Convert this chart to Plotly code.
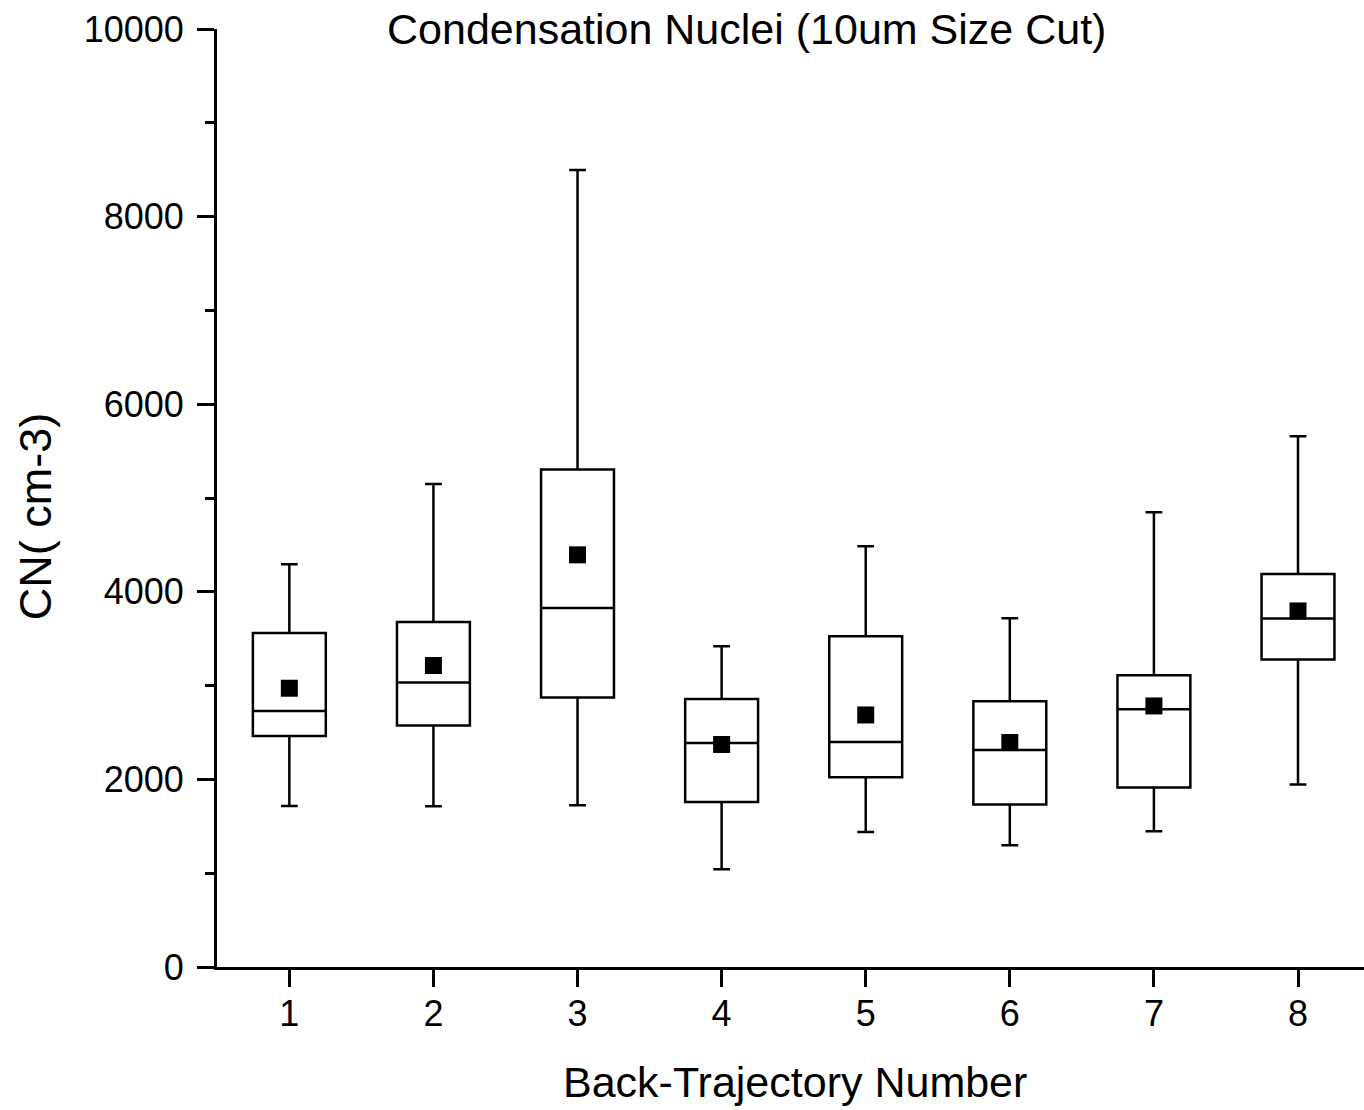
import plotly.graph_objects as go

trajectory = [1, 2, 3, 4, 5, 6, 7, 8]
upper_whisker = [4294, 5148, 8496, 3420, 4486, 3719, 4849, 5659]
q3_values = [3562, 3679, 5304, 2858, 3527, 2833, 3111, 4191]
median_values = [2730, 3033, 3828, 2389, 2399, 2314, 2748, 3715]
q1_values = [2463, 2574, 2873, 1760, 2023, 1732, 1913, 3278]
lower_whisker = [1717, 1714, 1724, 1042, 1440, 1298, 1447, 1945]
mean_values = [2972, 3214, 4394, 2372, 2687, 2393, 2783, 3796]
y_ticks = [0, 2000, 4000, 6000, 8000, 10000]

FONT = "Liberation Sans, Arial, sans-serif"

fig = go.Figure()
fig.add_trace(go.Box(
    x=trajectory,
    q1=q1_values, median=median_values, q3=q3_values,
    lowerfence=lower_whisker, upperfence=upper_whisker,
    width=0.506, whiskerwidth=0.23,
    fillcolor="white", line=dict(color="black", width=2.5),
    boxpoints=False, showlegend=False, hoverinfo="skip",
))
fig.add_trace(go.Scatter(
    x=trajectory, y=mean_values, mode="markers",
    marker=dict(symbol="square", size=17, color="black", line=dict(width=0)),
    showlegend=False,
))

fig.update_layout(
    width=1364, height=1110,
    margin=dict(l=217, r=0, t=29, b=143),
    paper_bgcolor="white", plot_bgcolor="white",
    font=dict(family=FONT, size=36, color="black"),
    xaxis=dict(
        range=[0.498, 8.458], tickmode="array", tickvals=trajectory,
        ticktext=[str(t) for t in trajectory],
        ticks="outside", ticklen=17, tickwidth=3, tickcolor="black",
        showline=True, linecolor="black", linewidth=3,
        showgrid=False, zeroline=False, ticklabelstandoff=-4,
        tickfont=dict(size=36),
    ),
    yaxis=dict(
        range=[0, 10000], tickmode="array", tickvals=y_ticks,
        ticktext=[str(v) for v in y_ticks],
        ticks="outside", ticklen=17, tickwidth=3, tickcolor="black",
        minor=dict(ticks="outside", ticklen=9, tickwidth=3, tickcolor="black", dtick=1000, tick0=0),
        showline=True, linecolor="black", linewidth=3,
        showgrid=False, zeroline=False, ticklabelstandoff=6,
        tickfont=dict(size=36),
    ),
    annotations=[
        dict(text="Condensation Nuclei (10um Size Cut)", showarrow=False,
             xref="paper", yref="paper", font=dict(size=43)),
        dict(text="Back-Trajectory Number", showarrow=False,
             xref="paper", yref="paper", font=dict(size=43)),
        dict(text="CN( cm-3)", showarrow=False, textangle=-90,
             xref="paper", yref="paper", font=dict(size=45)),
    ],
)
plot_w = 1364 - 217
plot_h = 1110 - 29 - 143
fig.layout.annotations[0].update(x=(746 - 217) / plot_w, y=(966.7 - 29) / plot_h, yanchor="middle")
fig.layout.annotations[1].update(x=(795 - 217) / plot_w, y=(966.7 - 1082) / plot_h, yanchor="middle")
fig.layout.annotations[2].update(x=(35 - 217) / plot_w, y=(966.7 - 517) / plot_h, xanchor="center", yanchor="middle")

fig.write_html("out.html")
